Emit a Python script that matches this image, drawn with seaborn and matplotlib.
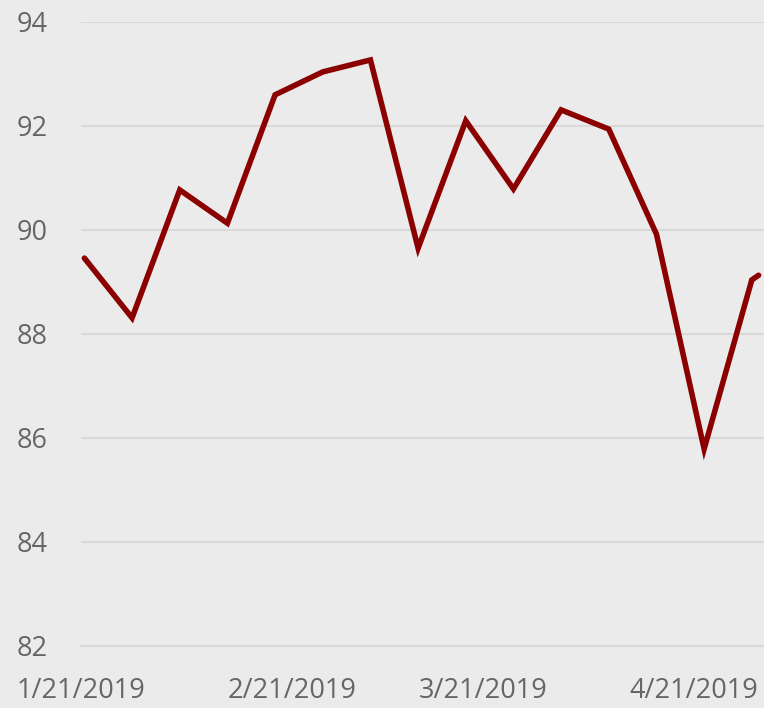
import pandas as pd
import matplotlib.pyplot as plt
import seaborn as sns

# dados
datas = ['2019-01-21', '2019-01-28', '2019-02-04', '2019-02-11', '2019-02-18',
         '2019-02-25', '2019-03-04', '2019-03-11', '2019-03-18', '2019-03-25',
         '2019-04-01', '2019-04-08', '2019-04-15', '2019-04-22', '2019-04-29',
         '2019-04-30']
valores = [89.46, 88.31, 90.77, 90.13, 92.60,
           93.04, 93.27, 89.65, 92.10, 90.79,
           92.31, 91.94, 89.92, 85.79, 89.04,
           89.13]
ticks_x = ['2019-01-21', '2019-02-21', '2019-03-21', '2019-04-21']
rotulos_x = ['1/21/2019', '2/21/2019', '3/21/2019', '4/21/2019']
ticks_y = [82, 84, 86, 88, 90, 92, 94]

# como no Excel, cada ponto fica no meio do dia
df = pd.DataFrame({'data': pd.to_datetime(datas) + pd.Timedelta(hours=12),
                   'valor': valores})

fundo = '#ebebeb'
cinza_txt = '#666666'
cinza_linha = '#d9d9d9'

sns.set_style('white')
plt.rcParams['font.family'] = ['Open Sans', 'DejaVu Sans']

fig = plt.figure(figsize=(7.64, 7.08), dpi=100, facecolor=fundo)
ax = fig.add_axes([81 / 764, 62 / 708, 1 - 81 / 764, 624 / 708])
ax.set_facecolor(fundo)

sns.lineplot(data=df, x='data', y='valor', color='#8b0000', linewidth=4,
             ax=ax, solid_capstyle='round', solid_joinstyle='miter')

ax.set_ylim(82, 94)
ax.set_xlim(pd.Timestamp('2019-01-21'), pd.Timestamp('2019-05-01 07:00'))
ax.set_yticks(ticks_y)
ax.set_yticklabels([str(v) for v in ticks_y])
ax.set_xticks(pd.to_datetime(ticks_x))
ax.set_xticklabels(rotulos_x)

ax.grid(axis='y', color=cinza_linha, linewidth=1.5)
ax.set_axisbelow(True)
for lado in ['top', 'right', 'left']:
    ax.spines[lado].set_visible(False)
ax.spines['bottom'].set_color(cinza_linha)
ax.spines['bottom'].set_linewidth(1.5)

ax.tick_params(axis='y', length=0, pad=24, labelsize=19.5, labelcolor=cinza_txt)
ax.tick_params(axis='x', length=9, width=1.5, color=cinza_linha, pad=13,
               labelsize=19.5, labelcolor=cinza_txt)

ax.set_xlabel('')
ax.set_ylabel('')

fig.savefig('out.png', dpi=100, facecolor=fundo)
